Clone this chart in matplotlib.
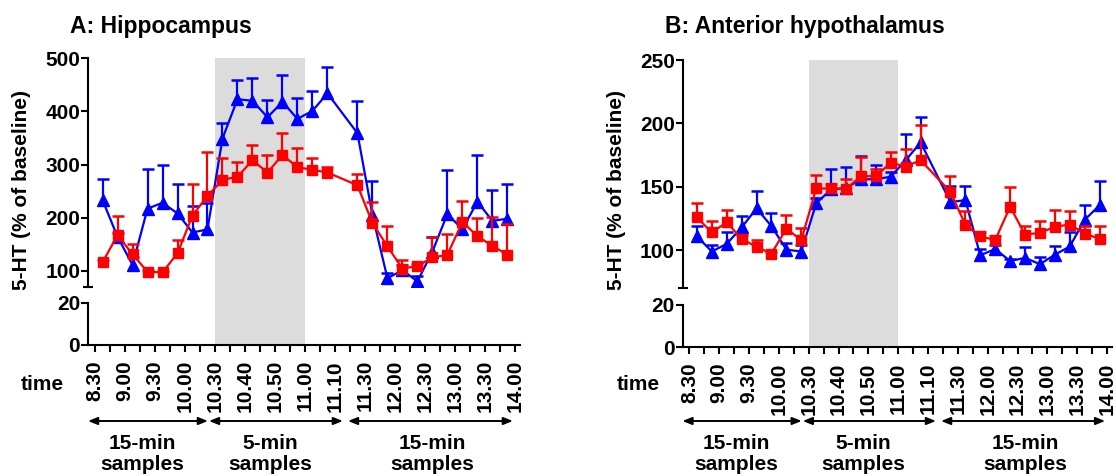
import numpy as np
import matplotlib
matplotlib.use("Agg")
import matplotlib.pyplot as plt

plt.rcParams['font.family'] = ['Liberation Sans', 'DejaVu Sans']
plt.rcParams['font.weight'] = 'bold'

# ---------------- data ----------------
time_labels = ['8.30', '', '9.00', '', '9.30', '', '10.00', '', '10.30', '', '10.40', '', '10.50', '',
               '11.00', '', '11.10', '', '11.30', '', '12.00', '', '12.30', '', '13.00', '', '13.30', '', '14.00']
# sample slot index (slot 16 has no sample)
sample_slot = [0, 1, 2, 3, 4, 5, 6, 7, 8, 9, 10, 11, 12, 13, 14, 15,
               17, 18, 19, 20, 21, 22, 23, 24, 25, 26, 27]

A_blue_mean = [233, 164, 111, 217, 228, 208, 172, 178, 349, 423, 420, 389, 418, 386, 401, 434,
               359, 205, 86, 101, 80, 136, 207, 178, 230, 194, 198]
A_blue_top = [272, 172, 125, 291, 300, 263, 222, 227, 379, 459, 462, 421, 468, 425, 439, 483,
              420, 269, 96, 110, 90, 164, 290, 195, 318, 252, 264]
A_red_mean = [116, 167, 131, 98, 97, 133, 204, 241, 271, 277, 308, 285, 318, 295, 290, 285,
              261, 190, 146, 104, 109, 125, 130, 192, 165, 147, 130]
A_red_top = [121, 203, 150, 101, 100, 157, 264, 324, 313, 304, 337, 318, 359, 332, 312, 296,
             283, 229, 184, 120, 113, 163, 169, 232, 199, 202, 188]

B_blue_mean = [111, 99, 105, 118, 133, 119, 100.5, 99, 137, 148, 149, 156, 156, 158, 171, 185,
               138, 139.5, 96, 101, 91.5, 94, 89, 96.5, 103, 124, 135.5]
B_blue_top = [119.5, 104.5, 114, 127, 147, 129, 106, 104, 141, 164, 166, 174, 167, 162, 192, 205,
              151, 151, 101, 104, 93, 102.7, 94.7, 103, 114, 135.3, 154.5]
B_red_mean = [126, 114, 122, 109, 102.6, 97.4, 117, 108, 148.7, 148.7, 148.4, 158.4, 158.4, 169, 166, 171,
              146, 120, 111, 108, 134.3, 112.4, 113.7, 118.5, 120.3, 113.2, 109]
B_red_top = [137, 123, 131.5, 112, 108, 99, 127.6, 117.6, 159.5, 152, 156, 173.7, 163.7, 177.4, 179.5, 199,
             158.5, 131, 114, 111, 150, 119.5, 123, 132, 131, 119, 119]

titles = ['A: Hippocampus', 'B: Anterior hypothalamus']
ylabel = '5-HT (% of baseline)'
segment_labels = ['15-min\nsamples', '5-min\nsamples', '15-min\nsamples']

# ---------------- layout ----------------
W, H = 1116, 476
fig = plt.figure(figsize=(W / 100, H / 100), dpi=100)

def fx(x):
    return x / W

def fy(y):
    return 1 - y / H

BLUE = '#0000ff'
RED = '#ff0000'
GRAY = '#dcdcdc'
FS = 15

x = np.array(sample_slot, dtype=float)
tick_pos = np.arange(len(time_labels)) - 0.5
XL = (-0.95, 27.83)


def draw_series(ax, mean, top, color, marker, ms, z):
    mean = np.asarray(mean, float)
    top = np.asarray(top, float)
    ax.vlines(x, mean, top, color=color, lw=1.6, zorder=z)
    ax.plot(x, top, ls='none', marker='_', ms=8, mew=1.8, color=color, zorder=z)
    ax.plot(x, mean, color=color, lw=1.6, marker=marker, ms=ms, mec=color, mfc=color, zorder=z + 0.5)


def panel(left_px, width_px, up_top, up_bot, lo_top, lo_bot, ytop, ystep, bm, bt, rm, rt,
          title, title_x, ylab_x, time_x):
    ax_up = fig.add_axes([fx(left_px), fy(up_bot), width_px / W, (up_bot - up_top) / H])
    ax_lo = fig.add_axes([fx(left_px), fy(lo_bot), width_px / W, (lo_bot - lo_top) / H])
    for ax in (ax_up, ax_lo):
        ax.set_facecolor('none')
        ax.spines['top'].set_visible(False)
        ax.spines['right'].set_visible(False)
        ax.spines['left'].set_linewidth(1.5)
        ax.spines['bottom'].set_linewidth(1.5)
        ax.set_xlim(*XL)
        ax.tick_params(axis='y', direction='out', length=4.8, width=1.5, pad=1, labelsize=FS)
    ax_up.spines['bottom'].set_visible(False)
    ax_up.tick_params(axis='x', bottom=False, labelbottom=False)
    ax_up.set_ylim(70, ytop)
    ax_up.set_yticks(np.arange(100, ytop + 1, ystep))
    ax_up.set_yticks([70], minor=True)
    ax_up.tick_params(axis='y', which='minor', direction='inout', length=7.5, width=1.5)
    for lab in ax_up.get_yticklabels():
        lab.set_fontweight('bold')

    ax_lo.set_ylim(0, 20)
    ax_lo.set_yticks([0, 20])
    ax_lo.set_xticks(tick_pos)
    ax_lo.set_xticklabels(time_labels, rotation=90, fontsize=FS, fontweight='bold')
    ax_lo.tick_params(axis='x', direction='out', length=4.8, width=1.5, pad=6)
    for lab in ax_lo.get_yticklabels():
        lab.set_fontweight('bold')

    # shading of the 5-min sampling period
    gap_frac = (lo_top - up_bot) / (lo_bot - lo_top)
    ax_up.axvspan(tick_pos[8], tick_pos[14], color=GRAY, lw=0, zorder=0)
    ax_lo.axvspan(tick_pos[8], tick_pos[14], ymin=0, ymax=1 + gap_frac, color=GRAY, lw=0,
                  zorder=0, clip_on=False)

    draw_series(ax_up, bm, bt, BLUE, '^', 8.5, 3)
    draw_series(ax_up, rm, rt, RED, 's', 7.5, 4)

    fig.text(fx(title_x), fy(33), title, fontsize=16.5, fontweight='bold', va='baseline', ha='left')
    fig.text(fx(ylab_x), fy(190), ylabel, fontsize=FS, fontweight='bold', rotation=90,
             ha='center', va='center')
    fig.text(fx(time_x), fy(385), 'time', fontsize=FS, fontweight='bold', ha='right', va='center')

    # arrows for sampling segments
    arrow_y = fy(421)
    segs = [(-0.97, 7.03), (7.1, 16.03), (16.37, 27.37)]
    centers = [2.63, 11.17, 22.0]
    for (a, b), c, lab in zip(segs, centers, segment_labels):
        ax_lo.annotate('', xy=(b, arrow_y), xytext=(a, arrow_y),
                       xycoords=('data', 'figure fraction'), textcoords=('data', 'figure fraction'),
                       arrowprops=dict(arrowstyle='<|-|>,head_length=0.55,head_width=0.22',
                                       color='black', lw=1.4, shrinkA=0, shrinkB=0),
                       annotation_clip=False)
        ax_lo.annotate(lab, xy=(c, fy(454)), xycoords=('data', 'figure fraction'),
                       ha='center', va='center', fontsize=FS, fontweight='bold',
                       linespacing=1.1, annotation_clip=False)


panel(88.3, 431.5, 58.3, 286.7, 302.7, 345.0, 500, 100, A_blue_mean, A_blue_top, A_red_mean, A_red_top,
      titles[0], 70, 22, 64)
panel(682.7, 429.3, 60.0, 288.3, 305.0, 347.3, 250, 50, B_blue_mean, B_blue_top, B_red_mean, B_red_top,
      titles[1], 665, 617, 660)

fig.savefig('out.png', dpi=100)
